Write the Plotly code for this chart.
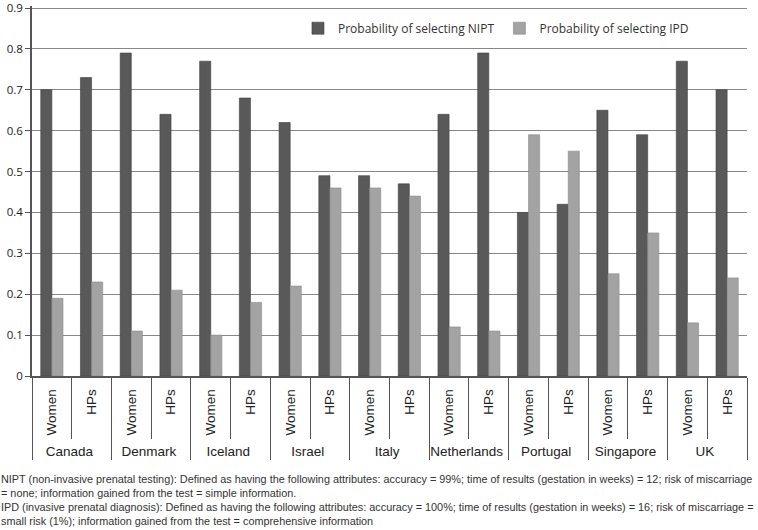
import plotly.graph_objects as go

countries = ["Canada", "Denmark", "Iceland", "Israel", "Italy",
             "Netherlands", "Portugal", "Singapore", "UK"]
groups = ["Women", "HPs"]
nipt = [0.70, 0.73, 0.79, 0.64, 0.77, 0.68, 0.62, 0.49, 0.49, 0.47,
        0.64, 0.79, 0.40, 0.42, 0.65, 0.59, 0.77, 0.70]
ipd = [0.19, 0.23, 0.11, 0.21, 0.10, 0.18, 0.22, 0.46, 0.46, 0.44,
       0.12, 0.11, 0.59, 0.55, 0.25, 0.35, 0.13, 0.24]
y_ticks = [0, 0.1, 0.2, 0.3, 0.4, 0.5, 0.6, 0.7, 0.8, 0.9]

outer = [c for c in countries for _ in groups]
inner = [g for _ in countries for g in groups]

fig = go.Figure()
fig.add_trace(go.Bar(x=[outer, inner], y=nipt, name="Probability of selecting NIPT",
                     marker=dict(color="#595959", line=dict(color="#404040", width=0.6))))
fig.add_trace(go.Bar(x=[outer, inner], y=ipd, name="Probability of selecting IPD",
                     marker=dict(color="#a3a3a3", line=dict(color="#8a8a8a", width=0.6))))

footnote = ("NIPT (non-invasive prenatal testing): Defined as having the following attributes: accuracy = 99%; time of results (gestation in weeks) = 12; risk of miscarriage<br>"
            "= none; information gained from the test = simple information.<br>"
            "IPD (invasive prenatal diagnosis): Defined as having the following attributes: accuracy = 100%; time of results (gestation in weeks) = 16; risk of miscarriage =<br>"
            "small risk (1%); information gained from the test = comprehensive information")

fig.update_layout(
    width=758, height=530,
    margin=dict(l=32, r=11, t=6, b=154),
    paper_bgcolor="white", plot_bgcolor="white",
    barmode="group", bargap=0.44, bargroupgap=0,
    font=dict(family="Liberation Sans, Arial, sans-serif", color="#222222"),
    legend=dict(orientation="h", x=0.372, y=0.94, xanchor="left", yanchor="middle",
                font=dict(family="Open Sans, sans-serif", size=12, color="#333333"),
                bgcolor="rgba(0,0,0,0)", itemwidth=30, traceorder="normal"),
    showlegend=True,
    annotations=[dict(text=footnote, xref="paper", yref="paper", x=-0.046, y=-0.258,
                      xanchor="left", yanchor="top", align="left", showarrow=False,
                      font=dict(family="Liberation Sans, Arial, sans-serif",
                                size=10.85, color="#333333"))],
)
fig.update_yaxes(range=[0, 0.905], tickvals=y_ticks, ticktext=["0"] + [f"{v:.1f}" for v in y_ticks[1:]],
                 showgrid=True, gridcolor="#878787", gridwidth=1,
                 showline=True, linecolor="#555555", linewidth=1.5,
                 ticks="outside", ticklen=5, tickcolor="#555555", automargin=False,
                 ticklabeloverflow="allow",
                 tickfont=dict(family="Open Sans, sans-serif", size=11.5, color="#222222"),
                 zeroline=False)
fig.update_xaxes(type="multicategory", showline=True, linecolor="#555555", linewidth=1.5,
                 ticks="outside", ticklen=61, tickcolor="#555555", tickwidth=1.2,
                 tickangle=-90, showdividers=True, dividercolor="#555555", dividerwidth=1.2,
                 automargin=False, ticklabelstandoff=6,
                 tickfont=dict(family="Liberation Sans, Arial, sans-serif", size=13.5, color="#222222"))

fig.write_html("out.html", config={"displayModeBar": False},
               post_script="document.body.style.margin='0';")
